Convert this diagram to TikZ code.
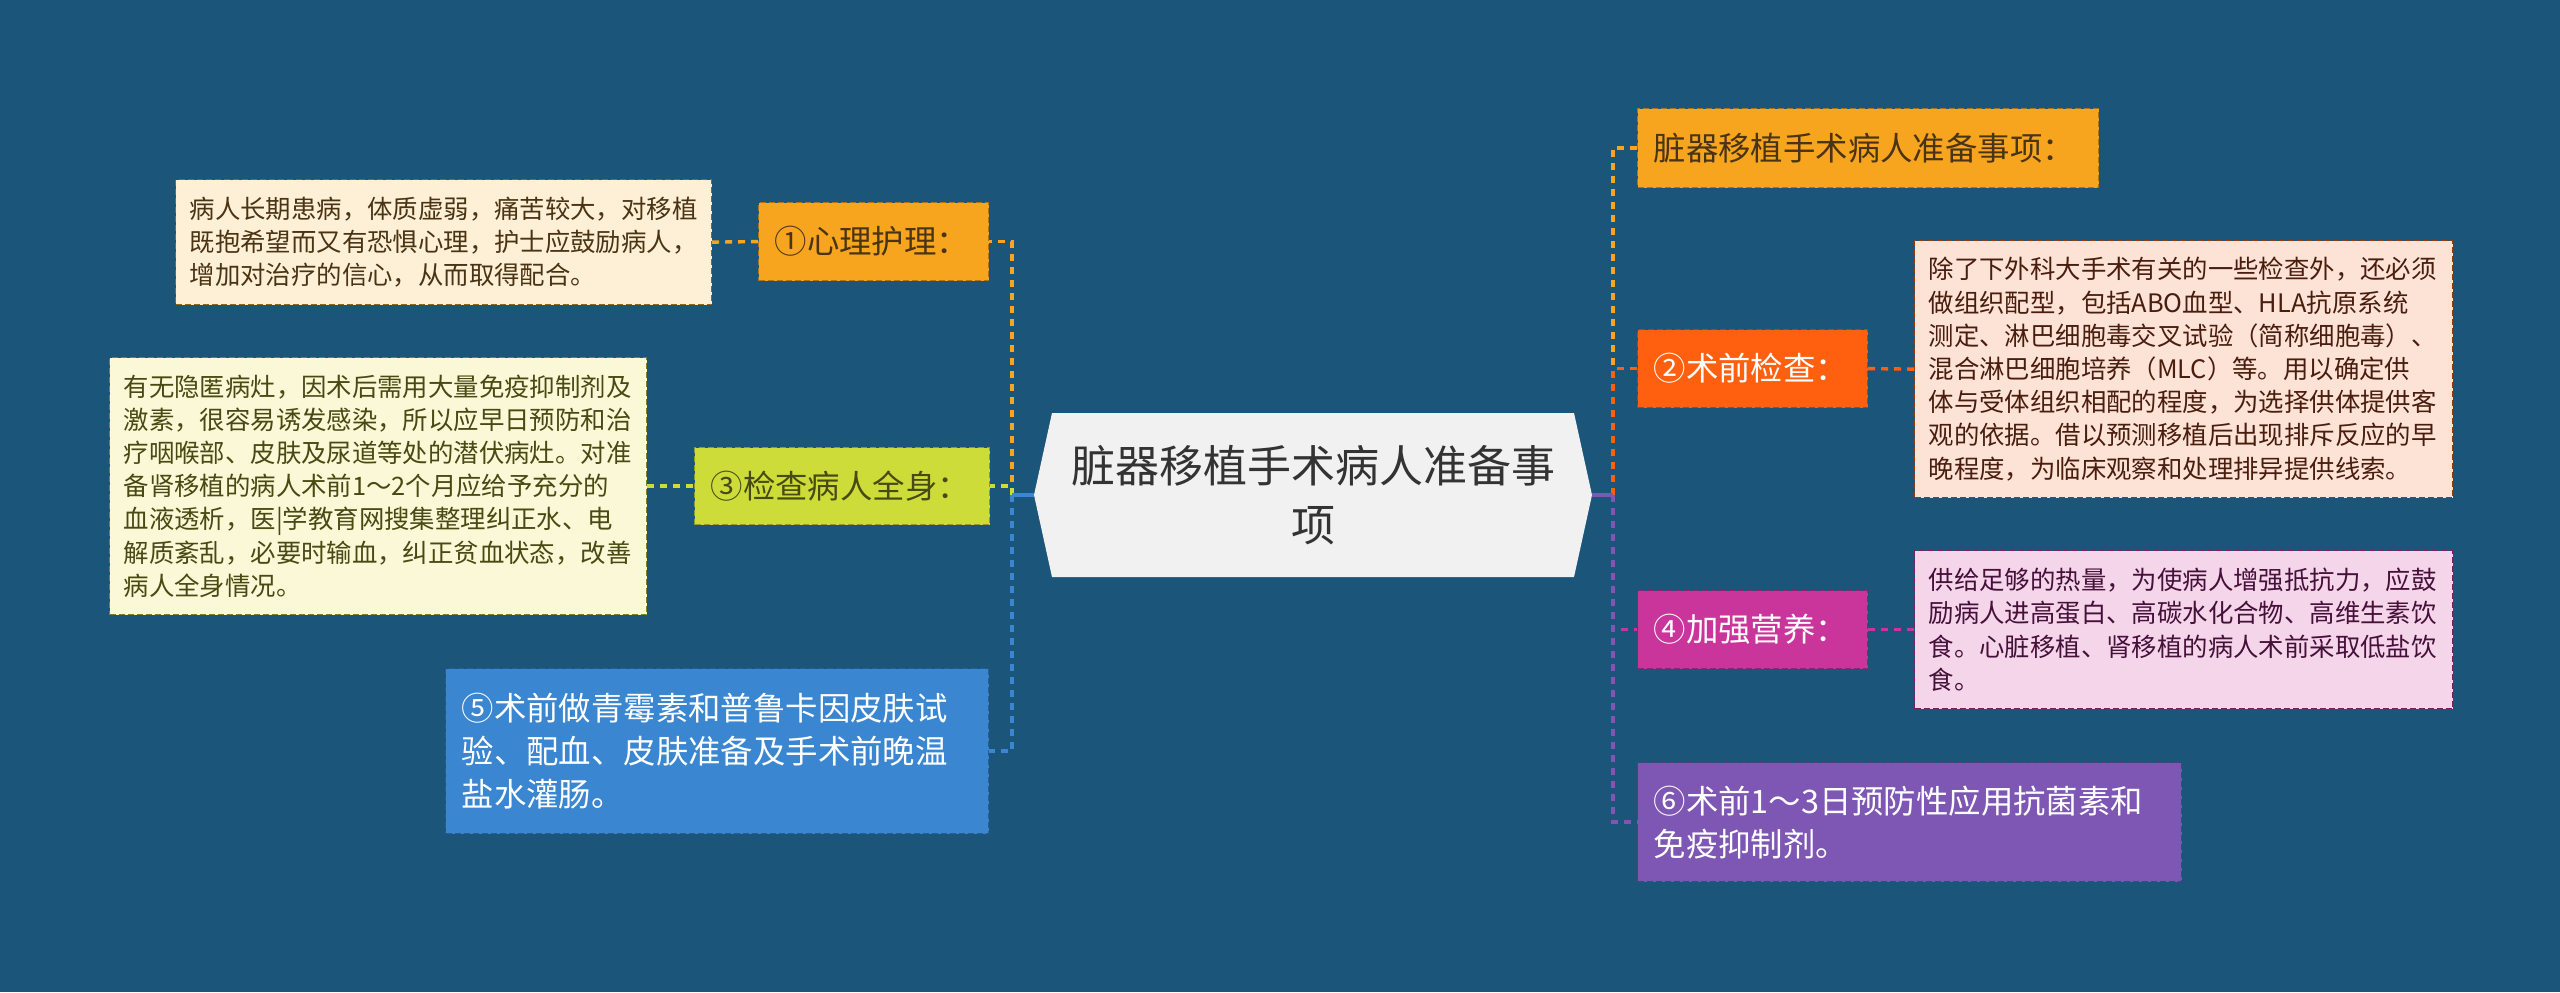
\documentclass[tikz,border=0pt]{standalone}
\usepackage{fontspec}
\setmainfont{Noto Sans CJK SC}
\definecolor{bg}{HTML}{1B5579}
\definecolor{cA}{HTML}{F7A51F}
\definecolor{cB}{HTML}{CDDC39}
\definecolor{cC}{HTML}{3A86D0}
\definecolor{cD}{HTML}{FF600F}
\definecolor{cE}{HTML}{C9359B}
\definecolor{cF}{HTML}{7E57B4}
\definecolor{fA}{HTML}{FEF0D6}
\definecolor{fB}{HTML}{FAF8D6}
\definecolor{fD}{HTML}{FDE3D6}
\definecolor{fE}{HTML}{F5D5EA}
\definecolor{tA}{HTML}{4A3414}
\definecolor{tB}{HTML}{474A12}
\definecolor{tD}{HTML}{4A1E0E}
\definecolor{tE}{HTML}{45103A}
\definecolor{hex}{HTML}{F1F1F1}
\begin{document}
\begin{tikzpicture}[x=0.5pt,y=-0.5pt,
  lbl/.style={anchor=north west, inner ysep=0pt, inner xsep=8pt, align=left,
    font=\fontsize{16.2}{21.5}\selectfont, draw, line width=0.6pt, dash pattern=on 3pt off 1.5pt},
  txt/.style={anchor=north west, inner ysep=0pt, inner xsep=7pt, align=left,
    font=\fontsize{12.7}{16.6}\selectfont, draw, line width=0.6pt, dash pattern=on 3pt off 1.5pt},
  conn/.style={line width=1.7pt, dash pattern=on 3.5pt off 3pt},
  stub/.style={line width=1.7pt}]
\fill[bg] (0,0) rectangle (2560,992);
\useasboundingbox (0,0) rectangle (2560,992);
% centre
\fill[hex] (1034,495) -- (1052,413) -- (1574,413) -- (1592,495) -- (1574,577) -- (1052,577) -- cycle;
\node[minimum width=279pt, minimum height=82pt, inner sep=0pt, align=center,
  font=\fontsize{22}{29.5}\selectfont, text=black!80] (c) at (1313,495) {脏器移植手术病人准备事\\项};
\coordinate (L) at (1012,495);
\coordinate (R) at (1613,495);
% left side
\node[txt, fill=fA, draw=cA!60!black, text=tA, text width=254pt, minimum height=62.5pt] (t1) at (175,179)
 {病人长期患病，体质虚弱，痛苦较大，对移植\\既抱希望而又有恐惧心理，护士应鼓励病人，\\增加对治疗的信心，从而取得配合。};
\node[lbl, fill=cA, draw=cA!70!black, text=tA, text width=99pt, minimum height=39pt] (n1) at (758,202) {①心理护理：};
\node[txt, fill=fB, draw=cB!60!black, text=tB, text width=254.5pt, minimum height=128.5pt] (t3) at (109,357)
 {有无隐匿病灶，因术后需用大量免疫抑制剂及\\激素，很容易诱发感染，所以应早日预防和治\\疗咽喉部、皮肤及尿道等处的潜伏病灶。对准\\备肾移植的病人术前1～2个月应给予充分的\\血液透析，医|学教育网搜集整理纠正水、电\\解质紊乱，必要时输血，纠正贫血状态，改善\\病人全身情况。};
\node[lbl, fill=cB, draw=cB!70!black, text=tB, text width=131.5pt, minimum height=38.5pt] (n3) at (694,447) {③检查病人全身：};
\node[lbl, fill=cC, draw=cC!70!black, text=white, text width=255.5pt, minimum height=82.5pt] (n5) at (445,668)
 {⑤术前做青霉素和普鲁卡因皮肤试\\验、配血、皮肤准备及手术前晚温\\盐水灌肠。};
% right side
\node[lbl, fill=cA, draw=cA!70!black, text=tA, text width=214.5pt, minimum height=39.5pt] (n0) at (1637,108) {脏器移植手术病人准备事项：};
\node[lbl, fill=cD, draw=cD!70!black, text=white, text width=99pt, minimum height=39pt] (n2) at (1637,329) {②术前检查：};
\node[txt, fill=fD, draw=cD!60!black, text=tD, text width=255pt, minimum height=128.5pt] (t2) at (1914,240)
 {除了下外科大手术有关的一些检查外，还必须\\做组织配型，包括ABO血型、HLA抗原系统\\测定、淋巴细胞毒交叉试验（简称细胞毒）、\\混合淋巴细胞培养（MLC）等。用以确定供\\体与受体组织相配的程度，为选择供体提供客\\观的依据。借以预测移植后出现排斥反应的早\\晚程度，为临床观察和处理排异提供线索。};
\node[lbl, fill=cE, draw=cE!70!black, text=white, text width=99pt, minimum height=39pt] (n4) at (1637,590) {④加强营养：};
\node[txt, fill=fE, draw=cE!60!black, text=tE, text width=255pt, minimum height=79pt] (t4) at (1914,550)
 {供给足够的热量，为使病人增强抵抗力，应鼓\\励病人进高蛋白、高碳水化合物、高维生素饮\\食。心脏移植、肾移植的病人术前采取低盐饮\\食。};
\node[lbl, fill=cF, draw=cF!70!black, text=white, text width=256pt, minimum height=59.5pt] (n6) at (1637,762)
 {⑥术前1～3日预防性应用抗菌素和\\免疫抑制剂。};
% connectors left
\draw[conn, cA] (L) |- (n1.east);
\draw[conn, cB] (L) |- (n3.east);
\draw[conn, cC] (L) |- (n5.east);
\draw[stub, cC] (c.west) -- (L);
\draw[conn, cA] (t1.east) -- (n1.west);
\draw[conn, cB] (t3.east) -- (n3.west);
% connectors right
\draw[conn, cA] (R) |- (n0.west);
\draw[conn, cD] (R) |- (n2.west);
\draw[conn, cE] (R) |- (n4.west);
\draw[conn, cF] (R) |- (n6.west);
\draw[stub, cF] (c.east) -- (R);
\draw[conn, cD] (n2.east) -- (t2.west);
\draw[conn, cE] (n4.east) -- (t4.west);
\end{tikzpicture}
\end{document}
